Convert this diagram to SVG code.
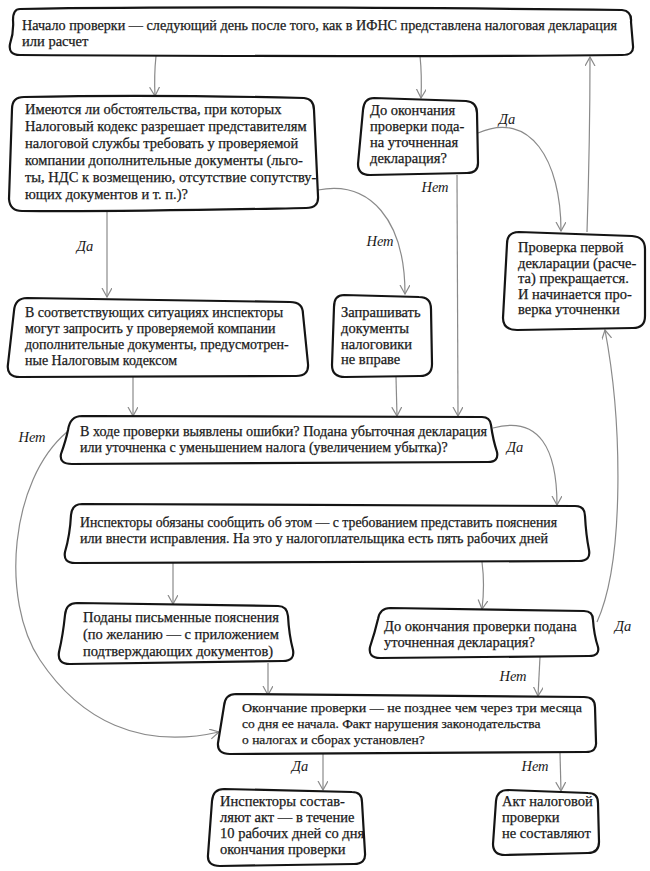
<svg xmlns="http://www.w3.org/2000/svg" width="650" height="871" viewBox="0 0 650 871">
<defs>
<style>
.box{fill:#fff;stroke:#141414;stroke-width:2.2;stroke-linejoin:round}
.t{font-family:"Liberation Serif","Times New Roman",serif;font-size:14.5px;fill:#1a1a1a;stroke:#1a1a1a;stroke-width:0.25}
.s{font-size:14px}
.x{font-size:13.5px}
.lbl{font-family:"Liberation Serif","Times New Roman",serif;font-size:14.5px;font-style:italic;fill:#1a1a1a;text-anchor:middle}
.c{fill:none;stroke:#8a8a8a;stroke-width:1.2}
</style>
<marker id="ah" markerUnits="userSpaceOnUse" markerWidth="12" markerHeight="12" refX="9" refY="5" orient="auto">
<path d="M0,0 L9,5 L0,10" fill="none" stroke="#8a8a8a" stroke-width="1.2"/>
</marker>
</defs>
<rect width="650" height="871" fill="#fff"/>
<g id="connectors">
<path class="c" marker-end="url(#ah)" d="M156,56 Q154,75 155,96"/>
<path class="c" marker-end="url(#ah)" d="M420,56 Q422,75 421,98"/>
<path class="c" marker-end="url(#ah)" d="M587,232 Q590,140 590,57"/>
<path class="c" marker-end="url(#ah)" d="M478,133 C530,110 561,160 561,231"/>
<path class="c" marker-end="url(#ah)" d="M457,175 L458,416"/>
<path class="c" marker-end="url(#ah)" d="M107,211 L107,297"/>
<path class="c" marker-end="url(#ah)" d="M318,190 C370,180 405,220 405,294"/>
<path class="c" marker-end="url(#ah)" d="M133,377 L133,416"/>
<path class="c" marker-end="url(#ah)" d="M396,377 L397,416"/>
<path class="c" marker-end="url(#ah)" d="M493,428 C540,415 557,450 557,505"/>
<path class="c" marker-end="url(#ah)" d="M67,432 C10,480 0,600 40,660 C80,720 140,750 219,732"/>
<path class="c" marker-end="url(#ah)" d="M173,562 L173,604"/>
<path class="c" marker-end="url(#ah)" d="M482,562 Q485,585 482,609"/>
<path class="c" marker-end="url(#ah)" d="M597,622 C625,560 622,420 605,330"/>
<path class="c" marker-end="url(#ah)" d="M268,663 L268,695"/>
<path class="c" marker-end="url(#ah)" d="M540,657 L538,696"/>
<path class="c" marker-end="url(#ah)" d="M323,753 L323,790"/>
<path class="c" marker-end="url(#ah)" d="M560,753 L561,791"/>
</g>
<g id="labels">
<text class="lbl" x="507" y="124">Да</text>
<text class="lbl" x="435" y="192">Нет</text>
<text class="lbl" x="85" y="251">Да</text>
<text class="lbl" x="380" y="246">Нет</text>
<text class="lbl" x="32" y="442">Нет</text>
<text class="lbl" x="515" y="452">Да</text>
<text class="lbl" x="623" y="631">Да</text>
<text class="lbl" x="513" y="681">Нет</text>
<text class="lbl" x="300" y="771">Да</text>
<text class="lbl" x="535" y="771">Нет</text>
</g>
<g id="start">
<path class="box" d="M20,9 C200,6 450,8 622,10 Q632,11 631,22 L633,46 Q634,55 622,55 C450,57 200,56 20,55 Q8,55 10,44 Q14,32 13,20 Q13,9 20,9 Z"/>
<text class="t" x="22" y="30" textLength="595" lengthAdjust="spacingAndGlyphs">Начало проверки — следующий день после того, как в ИФНС представлена налоговая декларация</text>
<text class="t" x="22" y="46">или расчет</text>
</g>
<g id="circumstances">
<path class="box" d="M24,97 C120,95 220,96 304,98 Q314,99 314,110 L318,196 Q319,208 306,208 C200,210 110,212 22,211 Q10,211 9,199 L12,109 Q12,97 24,97 Z"/>
<text class="t" x="25" y="114">Имеются ли обстоятельства,  при которых</text>
<text class="t" x="25" y="131">Налоговый кодекс разрешает представителям</text>
<text class="t" x="25" y="148">налоговой службы требовать у проверяемой</text>
<text class="t" x="25" y="165">компании дополнительные документы (льго-</text>
<text class="t" x="25" y="182">ты, НДС к возмещению, отсутствие сопутству-</text>
<text class="t" x="25" y="199">ющих документов и т. п.)?</text>
</g>
<g id="amended1">
<path class="box" d="M374,98 L466,101 Q477,102 477,113 L478,163 Q478,173 467,173 L370,175 Q358,175 358,164 L363,110 Q364,98 374,98 Z"/>
<text class="t" x="370" y="115">До окончания</text>
<text class="t" x="370" y="131">проверки пода-</text>
<text class="t" x="370" y="147">на уточненная</text>
<text class="t" x="370" y="163">декларация?</text>
</g>
<g id="restart">
<path class="box" d="M519,232 L632,236 Q645,237 645,249 L645,316 Q645,328 633,328 L517,330 Q503,330 503,318 L507,244 Q507,232 519,232 Z"/>
<text class="t" x="518" y="252">Проверка первой</text>
<text class="t" x="518" y="268">декларации (расче-</text>
<text class="t" x="518" y="283">та) прекращается.</text>
<text class="t" x="518" y="299">И начинается про-</text>
<text class="t" x="518" y="314">верка уточненки</text>
</g>
<g id="request">
<path class="box" d="M27,298 L290,302 Q303,302 303,314 L308,364 Q309,376 296,376 L20,377 Q6,377 8,364 L14,311 Q15,298 27,298 Z"/>
<text class="t s" x="25" y="317">В соответствующих ситуациях инспекторы</text>
<text class="t s" x="25" y="333">могут запросить  у проверяемой компании</text>
<text class="t s" x="25" y="349">дополнительные документы, предусмотрен-</text>
<text class="t s" x="25" y="365">ные Налоговым кодексом</text>
</g>
<g id="norequest">
<path class="box" d="M344,295 L419,297 Q431,297 431,309 L432,364 Q432,376 420,376 L345,377 Q332,377 332,365 L334,307 Q334,295 344,295 Z"/>
<text class="t" x="341" y="317">Запрашивать</text>
<text class="t" x="341" y="333">документы</text>
<text class="t" x="341" y="349">налоговики</text>
<text class="t" x="341" y="364">не вправе</text>
</g>
<g id="errors">
<path class="box" d="M82,416 L482,417 Q490,417 491,425 Q493,440 497,452 Q499,462 488,462 L72,464 Q59,464 61,454 Q66,440 68,430 Q70,416 82,416 Z"/>
<text class="t s" x="80" y="436" textLength="407" lengthAdjust="spacingAndGlyphs">В ходе проверки выявлены ошибки? Подана убыточная декларация</text>
<text class="t s" x="80" y="452">или уточненка с уменьшением налога (увеличением убытка)?</text>
</g>
<g id="notify">
<path class="box" d="M82,504 L575,506 Q585,506 585,516 Q586,535 589,550 Q591,561 579,561 L75,563 Q63,563 65,552 Q70,535 71,515 Q72,504 82,504 Z"/>
<text class="t s" x="80" y="527" textLength="477" lengthAdjust="spacingAndGlyphs">Инспекторы обязаны сообщить об этом — с требованием представить пояснения</text>
<text class="t s" x="80" y="543" textLength="468" lengthAdjust="spacingAndGlyphs">или внести исправления. На это у  налогоплательщика есть пять рабочих дней</text>
</g>
<g id="explanations">
<path class="box" d="M77,603 L278,606 Q287,606 288,616 Q289,635 293,650 Q295,661 283,661 L70,664 Q57,664 59,652 Q63,635 65,615 Q66,603 77,603 Z"/>
<text class="t" x="83" y="622">Поданы письменные пояснения</text>
<text class="t" x="83" y="639">(по желанию — с приложением</text>
<text class="t" x="83" y="656">подтверждающих документов)</text>
</g>
<g id="amended2">
<path class="box" d="M390,608 L584,611 Q593,611 593,620 Q594,635 598,647 Q600,656 589,656 L380,658 Q368,658 370,647 Q375,632 378,619 Q380,608 390,608 Z"/>
<text class="t" x="384" y="631">До окончания проверки подана</text>
<text class="t" x="384" y="647">уточненная декларация?</text>
</g>
<g id="end">
<path class="box" d="M236,694 L584,697 Q595,697 595,707 L596,742 Q597,752 586,752 L230,754 Q217,754 218,743 Q221,725 224,706 Q225,694 236,694 Z"/>
<text class="t x" x="242" y="712" textLength="340" lengthAdjust="spacingAndGlyphs">Окончание проверки — не позднее чем через три месяца</text>
<text class="t x" x="242" y="728">со дня ее начала. Факт нарушения законодательства</text>
<text class="t x" x="242" y="744">о налогах и сборах установлен?</text>
</g>
<g id="act">
<path class="box" d="M224,789 L352,792 Q362,792 362,802 L365,853 Q366,864 354,864 L220,866 Q207,866 208,855 L212,801 Q213,789 224,789 Z"/>
<text class="t" x="220" y="806">Инспекторы состав-</text>
<text class="t" x="220" y="822">ляют акт — в течение</text>
<text class="t" x="220" y="838">10 рабочих дней со дня</text>
<text class="t" x="220" y="854">окончания проверки</text>
</g>
<g id="noact">
<path class="box" d="M508,790 L588,793 Q598,793 598,803 L599,842 Q599,853 588,853 L505,855 Q493,855 493,844 L496,801 Q497,790 508,790 Z"/>
<text class="t" x="502" y="806">Акт налоговой</text>
<text class="t" x="502" y="822">проверки</text>
<text class="t" x="502" y="838">не составляют</text>
</g>
</svg>
